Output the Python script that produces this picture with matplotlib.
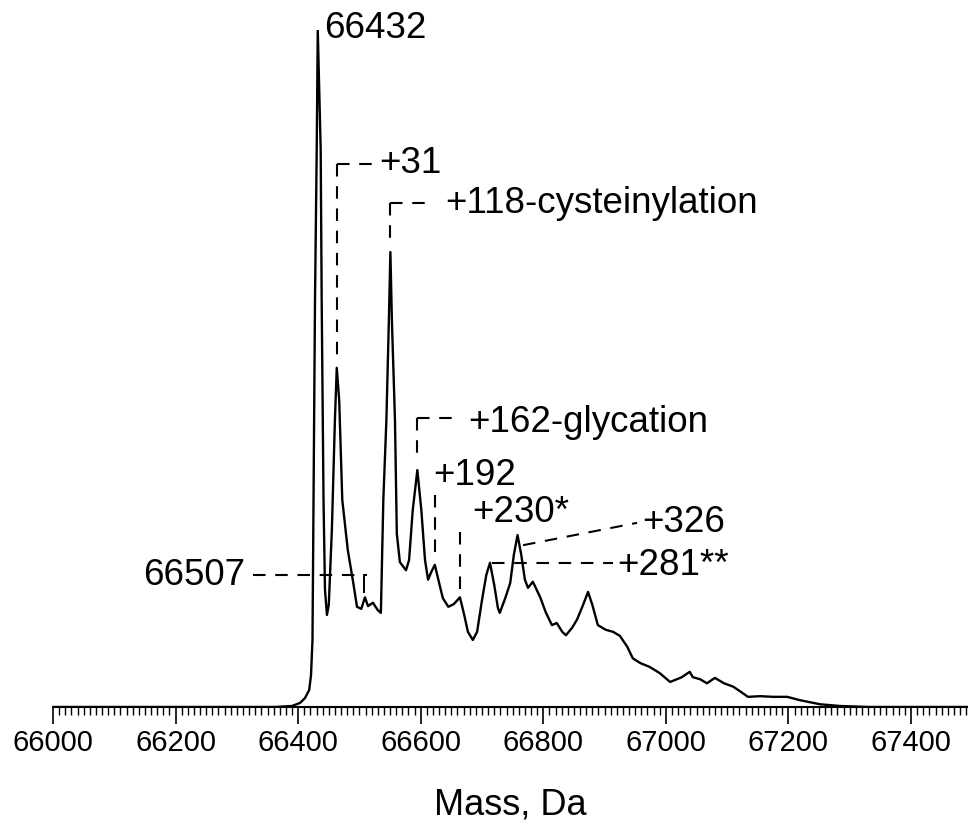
import numpy as np
import matplotlib.pyplot as plt
from matplotlib.ticker import MultipleLocator

plt.rcParams['font.family'] = ['Liberation Sans', 'DejaVu Sans']
plt.rcParams['lines.scale_dashes'] = False

# deconvoluted spectrum, mass (Da) vs relative intensity (%)
mass = [66000, 66362, 66390, 66403, 66411, 66418, 66421, 66423.4, 66425.1,
        66427.5, 66430.3, 66432, 66436.8, 66438.4, 66441.4, 66443.8, 66447,
        66450, 66455, 66460, 66463, 66467, 66472, 66481, 66490, 66496,
        66503, 66509, 66514, 66522, 66530, 66535, 66539, 66544, 66548,
        66550.5, 66553, 66558, 66561, 66566, 66576, 66581, 66587, 66594.5,
        66601, 66607, 66612, 66617, 66623, 66628, 66636, 66645, 66654,
        66664, 66671, 66677, 66685, 66692, 66700, 66707, 66713, 66720,
        66726, 66729, 66738, 66746, 66752, 66758, 66764, 66770, 66775,
        66783, 66795, 66804, 66814, 66822, 66831, 66837, 66847, 66855,
        66865, 66873, 66880, 66889, 66902, 66914, 66925, 66937, 66946,
        66958, 66974, 66990, 67007, 67026, 67039, 67044, 67056, 67067,
        67080, 67095, 67110, 67123, 67134, 67154, 67175, 67198, 67219,
        67252, 67284, 67333, 67493]
intensity = [0, 0, 0.15, 0.6, 1.3, 2.5, 4.7, 9.9, 30.6,
             60.1, 82.3, 100, 82.3, 60.1, 30.6, 17.3, 13.6,
             15.1, 26.1, 42.4, 50.1, 45.3, 30.6, 23.2, 18.3, 14.8,
             14.5, 16.2, 14.9, 15.4, 14.3, 13.9, 30.6, 42.4, 57.0,
             67.2, 57.0, 42.4, 25.6, 21.4, 20.2, 21.7, 29.1, 35.0,
             29.1, 21.7, 18.8, 19.9, 21.0, 19.1, 16.1, 14.8, 15.2,
             16.2, 13.6, 11.1, 9.9, 11.1, 15.8, 19.5, 21.3, 18.0,
             14.6, 13.9, 16.1, 18.3, 22.5, 25.4, 22.5, 18.8, 17.6,
             18.5, 16.2, 14.0, 12.1, 12.4, 11.1, 10.6, 11.7, 12.9,
             15.1, 17.0, 15.1, 12.1, 11.4, 11.1, 10.5, 8.9, 7.2,
             6.5, 5.9, 5.0, 3.7, 4.4, 5.2, 4.4, 4.1, 3.5,
             4.3, 3.5, 3.0, 2.2, 1.5, 1.6, 1.5, 1.5, 1.0,
             0.4, 0.15, 0, 0]

base_mass = 66432
shifts = [31, 118, 162, 192, 230, 281, 326]
shift_labels = ['+31', '+118-cysteinylation', '+162-glycation', '+192',
                '+230*', '+281**', '+326']
minor_mass = 66507

fig = plt.figure(figsize=(9.68, 8.25), dpi=100)
ax = fig.add_axes([53 / 968, 118 / 825, 915 / 968, 677 / 825])
ax.plot(mass, intensity, color='black', lw=1.7, zorder=3,
        solid_joinstyle='round')
ax.set_xlim(66000, 67493)
ax.set_ylim(0, 100)

for s in ['top', 'right', 'left']:
    ax.spines[s].set_visible(False)
ax.spines['bottom'].set_linewidth(1.5)
ax.set_yticks([])
ax.xaxis.set_major_locator(MultipleLocator(200))
ax.xaxis.set_minor_locator(MultipleLocator(10))
ax.tick_params(axis='x', which='major', direction='out', length=12, width=1.2,
               labelsize=21, pad=4)
ax.tick_params(axis='x', which='minor', direction='out', length=6, width=1.0)
ax.set_xlabel('Mass, Da', fontsize=26, labelpad=22)

dash = dict(color='black', lw=1.5, dashes=(9, 7), clip_on=False, zorder=2)
txt = dict(fontsize=26.5, va='baseline', clip_on=False)

# main peak
ax.text(base_mass + 11, 98.8, str(base_mass), **txt)

pk = {s: base_mass + s for s in shifts}

# +31
ax.plot([pk[31], pk[31]], [80.2, 51.5], **dash)
ax.plot([pk[31], pk[31] + 67], [80.2, 80.2], **dash)
ax.text(pk[31] + 70, 78.9, shift_labels[0], **txt)

# +118
ax.plot([pk[118], pk[118]], [74.4, 68.2], **dash)
ax.plot([pk[118], pk[118] + 69], [74.4, 74.4], **dash)
ax.text(pk[118] + 90, 73.0, shift_labels[1], **txt)

# +162
ax.plot([pk[162], pk[162]], [42.7, 36.5], **dash)
ax.plot([pk[162], pk[162] + 67], [42.7, 42.7], **dash)
ax.text(pk[162] + 83, 40.6, shift_labels[2], **txt)

# +192
ax.plot([pk[192], pk[192]], [31.3, 21.5], **dash)
ax.text(pk[192] - 4, 32.8, shift_labels[3], **txt)

# +230
ax.plot([pk[230] + 2, pk[230] + 2], [25.8, 16.0], **dash)
ax.text(pk[230] + 22, 27.3, shift_labels[4], **txt)

# +281
ax.plot([pk[281] + 3, pk[281] + 201], [21.3, 21.3], **dash)
ax.text(pk[281] + 207, 19.5, shift_labels[5], **txt)

# +326
ax.plot([pk[326] + 9, pk[326] + 195], [23.9, 27.2], **dash)
ax.text(pk[326] + 203, 25.8, shift_labels[6], **txt)

# 66507 shoulder
ax.plot([66326, minor_mass + 5], [19.5, 19.5], **dash)
ax.plot([minor_mass, minor_mass], [19.5, 17.0], color='black', lw=1.4)
ax.text(66313, 18.0, str(minor_mass), ha='right', **txt)

fig.savefig('out.png', dpi=100)
